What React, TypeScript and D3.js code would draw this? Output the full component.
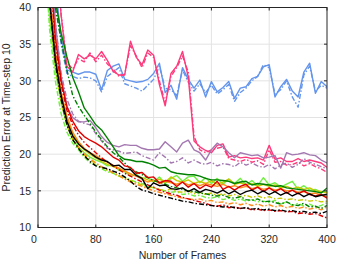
import React from "react";
import * as d3 from "d3";

const frames: number[] = d3.range(8, 401, 8);
const xTicks = [0, 80, 160, 240, 320, 400];
const yTicks = [10, 15, 20, 25, 30, 35, 40];

const pinkSolid = [75,60,48,39,32,31.2,33.6,33.0,33.5,33.0,34.0,32.8,31.3,30.8,30.8,35.4,33.2,32.2,34.2,33.5,29.5,26.6,31.0,32.0,34.0,30.5,21.8,21.0,20.5,20.2,21.2,21.4,19.6,19.8,19.5,19.6,19.4,19.5,19.2,21.2,19.3,19.5,19.0,19.0,19.4,19.0,19.2,19.0,18.8,18.2];
const pinkDash = [75,60,48,39,32.5,31.6,33.0,32.6,33.8,32.6,33.5,32.3,31.6,30.6,30.9,34.8,33.4,31.8,33.8,33.2,30.0,27.0,30.6,31.8,33.4,31.2,22.4,20.6,20.2,20.6,20.8,21.0,19.4,19.2,19.0,19.3,18.9,19.1,18.6,20.6,18.9,19.0,18.5,18.6,18.9,18.4,18.7,18.3,18.0,17.5];
const blueSolid = [80,55,43,36,31.5,31.2,30.9,31.2,31.2,30.9,28.8,31.4,32.0,32.3,30.2,30.0,29.8,29.9,30.2,31.0,32.4,28.4,29.4,27.5,31.8,30.2,29.0,30.1,27.8,29.9,28.5,29.1,29.9,27.6,29.0,29.2,30.3,30.6,31.9,32.2,27.8,29.2,30.2,28.6,27.8,31.2,32.4,28.3,29.9,29.2];
const blueDash = [80,55,42,35,31,30.6,30.3,30.5,30.4,30.0,28.5,30.6,31.2,31.8,29.6,29.3,29.0,28.6,29.4,30.2,32.0,29.0,28.8,28.0,31.5,29.8,28.6,29.6,28.4,29.4,28.2,28.8,29.5,27.2,28.4,29.0,30.0,30.6,32.2,31.8,28.2,28.8,30.0,27.8,26.4,30.8,32.0,28.6,29.4,29.0];
const purpleSolid = [70,50,38,30.5,26.5,25.0,24.4,24.4,24.6,23.6,22.4,21.6,21.2,21.0,21.3,21.2,21.2,20.8,20.6,20.6,20.7,21.7,21.0,20.3,21.5,21.9,20.6,20.2,19.2,20.6,21.5,21.0,20.2,19.5,20.2,20.0,19.8,19.9,19.5,19.6,19.8,18.1,20.2,19.9,20.0,20.2,19.9,19.8,19.2,18.8];
const purpleDash = [70,50,38,31,27.5,25.5,24.5,24.2,24.0,22.8,21.8,20.8,20.6,20.4,20.1,20.2,20.3,19.8,19.5,19.2,20.2,19.6,18.8,19.0,19.5,18.8,19.2,18.8,18.6,18.9,18.4,18.7,18.6,18.3,18.9,18.5,18.8,18.4,18.2,18.6,18.0,18.5,18.8,18.2,18.6,19.4,18.9,18.6,18.3,18.0];
const darkGreenSolid = [80,52,41,36.5,33.3,30.5,28.5,26.3,25.2,24.0,23.3,22.2,21.0,19.8,19.3,19.2,19.0,19.0,18.8,18.5,18.1,18.2,17.6,17.4,17.3,17.2,17.2,17.0,16.7,16.5,16.5,16.4,16.3,16.0,16.2,16.3,15.8,16.0,15.9,15.8,15.6,15.7,15.4,15.3,15.2,15.1,15.0,14.9,14.7,15.4];
const darkGreenDash = [80,52,40,35.5,31.5,28,26.5,25.3,24.2,23.0,22.0,21.0,20.2,19.6,18.8,18.0,17.6,17.2,16.8,16.4,16.2,15.9,15.6,15.4,15.2,15.0,14.9,14.7,14.6,14.4,14.3,14.4,14.1,14.0,14.2,13.8,13.7,13.9,13.5,13.6,13.4,13.2,13.5,13.1,13.0,13.3,12.8,12.9,12.6,13.0];
const lightGreenSolid = [52,38.5,31.5,27,24,22,21,20.2,19.6,19.2,18.9,18.4,18.5,17.8,17.6,17.0,17.3,16.6,16.9,16.2,16.9,16.0,16.7,17.1,16.3,16.9,17.0,16.1,16.8,16.0,16.7,15.9,16.6,16.0,16.7,15.8,16.4,15.7,16.8,15.8,16.1,15.5,15.9,16.3,15.2,15.7,15.1,15.2,14.8,14.9];
const lightGreenDash = [50,37,30,25.5,23,21.5,20.6,19.6,18.8,18.5,18.0,17.6,17.4,17.0,16.8,16.5,16.2,16.0,15.6,15.4,15.2,15.0,14.8,14.9,14.5,14.6,14.3,14.4,14.1,14.0,14.2,13.8,14.0,13.7,13.9,13.6,13.8,13.5,13.6,13.4,13.7,13.2,13.5,13.0,13.3,12.9,13.2,12.8,13.0,13.4];
const yellowSolid = [55,40,33,28,24.8,22.8,21.5,20.6,20.0,19.5,19.0,18.6,18.3,18.0,17.7,17.3,17.0,16.8,16.5,16.3,16.6,16.2,16.9,16.4,16.2,16.5,16.0,16.3,16.0,16.4,15.9,16.2,16.6,15.9,16.1,15.8,16.0,15.6,15.9,15.6,15.8,15.4,15.6,15.3,15.5,15.2,15.4,15.0,14.9,14.7];
const yellowDash = [55,40,32,27,24,22,20.8,19.9,19.2,18.7,18.2,17.8,17.4,17.0,16.7,16.4,16.1,15.8,15.4,15.5,15.2,15.0,15.3,14.9,14.8,15.0,14.6,14.8,14.5,14.7,14.4,14.6,14.3,14.5,14.2,14.4,14.1,14.3,14.0,14.2,13.9,14.0,13.8,13.9,13.7,13.8,13.6,13.7,13.5,13.6];
const orangeSolid = [58,42,34,28.5,25.2,23.0,21.7,20.8,20.2,19.8,19.3,18.9,18.5,18.1,17.7,17.3,17.0,16.6,16.2,16.5,16.0,16.3,16.1,15.9,16.2,15.8,16.0,15.7,16.0,15.8,15.6,15.9,15.5,15.7,15.4,15.6,15.3,15.5,15.2,15.4,15.1,15.3,15.0,15.1,14.8,14.9,14.6,14.7,14.4,14.2];
const orangeDash = [58,42,33,28,24.5,22.4,21.0,20.0,19.4,18.8,18.3,17.9,17.5,17.1,16.6,16.2,15.9,15.6,15.3,15.0,14.8,14.6,14.4,14.2,14.0,13.9,13.8,13.9,13.6,13.7,13.4,13.5,13.2,13.4,13.1,13.3,13.0,13.2,12.9,13.1,12.8,13.0,12.7,12.9,12.6,12.8,12.5,12.7,12.4,12.8];
const redSolid = [62,46,36,30,26.5,24.5,23.2,22.4,21.9,21.5,21.0,20.3,19.6,19.2,18.4,18.2,17.4,17.5,16.8,16.9,16.1,16.4,16.3,15.6,16.2,15.5,16.0,15.3,15.8,15.5,16.3,15.2,15.6,15.1,15.6,15.9,15.1,15.5,14.9,15.4,14.9,15.3,14.7,15.1,14.6,15.0,14.5,14.3,14.5,14.0];
const redDash = [62,46,35,29.5,26,24,22.6,21.6,20.9,20.2,19.5,18.9,18.4,17.9,17.4,17.0,16.6,16.2,15.8,15.5,15.1,14.8,14.6,14.4,14.1,13.9,13.7,13.5,13.3,13.0,12.9,13.1,12.7,12.8,12.6,12.7,12.4,12.5,12.3,12.4,12.2,12.3,12.1,12.2,11.9,12.0,11.8,11.9,11.6,11.3];
const blackSolid = [56,41,33,28,24.5,22.5,21.4,20.7,20.2,19.6,19.2,19.0,18.4,18.5,17.9,17.9,17.1,16.7,15.3,16.1,15.7,15.8,15.3,15.2,15.4,14.9,15.3,14.8,15.2,15.0,14.7,15.1,14.6,15.0,14.5,14.9,15.1,14.6,15.0,14.5,14.9,14.4,14.8,14.3,14.7,14.2,14.6,14.2,14.4,14.5];
const blackDash = [56,41,32.5,27.5,24,22,20.8,19.8,19.0,18.4,18.2,18.0,17.7,17.4,16.9,16.3,15.6,15.1,14.9,14.6,14.4,14.2,14.0,13.8,13.6,13.5,13.3,13.2,13.1,13.0,12.9,12.8,12.9,12.7,12.6,12.7,12.5,12.6,12.4,12.5,12.3,12.4,12.2,12.3,12.1,12.2,12.0,12.1,11.9,12.2];

const seriesList: { values: number[]; color: string; dash: boolean }[] = [
  { values: blueSolid, color: "#6495ed", dash: false },
  { values: blueDash, color: "#6495ed", dash: true },
  { values: pinkSolid, color: "#ff3a7c", dash: false },
  { values: pinkDash, color: "#ff3a7c", dash: true },
  { values: purpleSolid, color: "#a377b0", dash: false },
  { values: purpleDash, color: "#a377b0", dash: true },
  { values: lightGreenSolid, color: "#70f040", dash: false },
  { values: lightGreenDash, color: "#70f040", dash: true },
  { values: yellowSolid, color: "#c8c800", dash: false },
  { values: yellowDash, color: "#c8c800", dash: true },
  { values: orangeSolid, color: "#ff8c1a", dash: false },
  { values: orangeDash, color: "#ff8c1a", dash: true },
  { values: darkGreenSolid, color: "#008000", dash: false },
  { values: darkGreenDash, color: "#008000", dash: true },
  { values: redSolid, color: "#e00000", dash: false },
  { values: redDash, color: "#e00000", dash: true },
  { values: blackSolid, color: "#000000", dash: false },
  { values: blackDash, color: "#000000", dash: true },
];

const W = 339;
const H = 263;
const M = { left: 38, right: 12, top: 7.5, bottom: 35.5 };
const FONT = "'Liberation Sans', Arial, Helvetica, sans-serif";

export default function App() {
  const x = d3.scaleLinear().domain([0, 400]).range([M.left, W - M.right]);
  const y = d3.scaleLinear().domain([10, 40]).range([H - M.bottom, M.top]);
  const line = d3
    .line<number>()
    .x((_, i) => x(frames[i]))
    .y((d) => y(d));
  const x0 = x(0), x1 = x(400), y0 = y(10), y1 = y(40);
  const axisColor = "#262626";
  return (
    <svg
      width={W}
      height={H}
      style={{ position: "absolute", left: 0, top: 0, background: "#fff" }}
      fontFamily={FONT}
    >
      <defs>
        <clipPath id="plot">
          <rect x={x0} y={y1} width={x1 - x0} height={y0 - y1} />
        </clipPath>
      </defs>
      <rect x={x0} y={y1} width={x1 - x0} height={y0 - y1} fill="#fff" />
      {xTicks.slice(1, -1).map((t) => (
        <line key={"gx" + t} x1={x(t)} x2={x(t)} y1={y0} y2={y1} stroke="#e3e3e3" strokeWidth={1} />
      ))}
      {yTicks.slice(1, -1).map((t) => (
        <line key={"gy" + t} x1={x0} x2={x1} y1={y(t)} y2={y(t)} stroke="#e3e3e3" strokeWidth={1} />
      ))}
      <g clipPath="url(#plot)">
        {seriesList.map((s, i) => (
          <path
            key={i}
            d={line(s.values) || ""}
            fill="none"
            stroke={s.color}
            strokeWidth={1.4}
            strokeDasharray={s.dash ? "5,2,1.5,2" : undefined}
            strokeLinejoin="round"
          />
        ))}
      </g>
      <rect x={x0} y={y1} width={x1 - x0} height={y0 - y1} fill="none" stroke={axisColor} strokeWidth={1} />
      {xTicks.map((t) => (
        <g key={"tx" + t}>
          <line x1={x(t)} x2={x(t)} y1={y0} y2={y0 - 3} stroke={axisColor} />
          <line x1={x(t)} x2={x(t)} y1={y1} y2={y1 + 3} stroke={axisColor} />
          <text x={x(t)} dx={t === 0 ? -4 : 0} y={y0 + 15.5} fontSize={10.5} textAnchor="middle" fill={axisColor}>
            {t}
          </text>
        </g>
      ))}
      {yTicks.map((t) => (
        <g key={"ty" + t}>
          <line x1={x0} x2={x0 + 3} y1={y(t)} y2={y(t)} stroke={axisColor} />
          <line x1={x1} x2={x1 - 3} y1={y(t)} y2={y(t)} stroke={axisColor} />
          <text x={x0 - 7} y={y(t) + 3.8} fontSize={10.5} textAnchor="end" fill={axisColor}>
            {t}
          </text>
        </g>
      ))}
      <text x={(x0 + x1) / 2} y={H - 4} fontSize={10.5} textAnchor="middle" fill={axisColor}>
        Number of Frames
      </text>
      <text
        transform={`translate(10,${(y0 + y1) / 2}) rotate(-90)`}
        fontSize={10.5}
        textAnchor="middle"
        fill={axisColor}
      >
        Prediction Error at Time-step 10
      </text>
    </svg>
  );
}
